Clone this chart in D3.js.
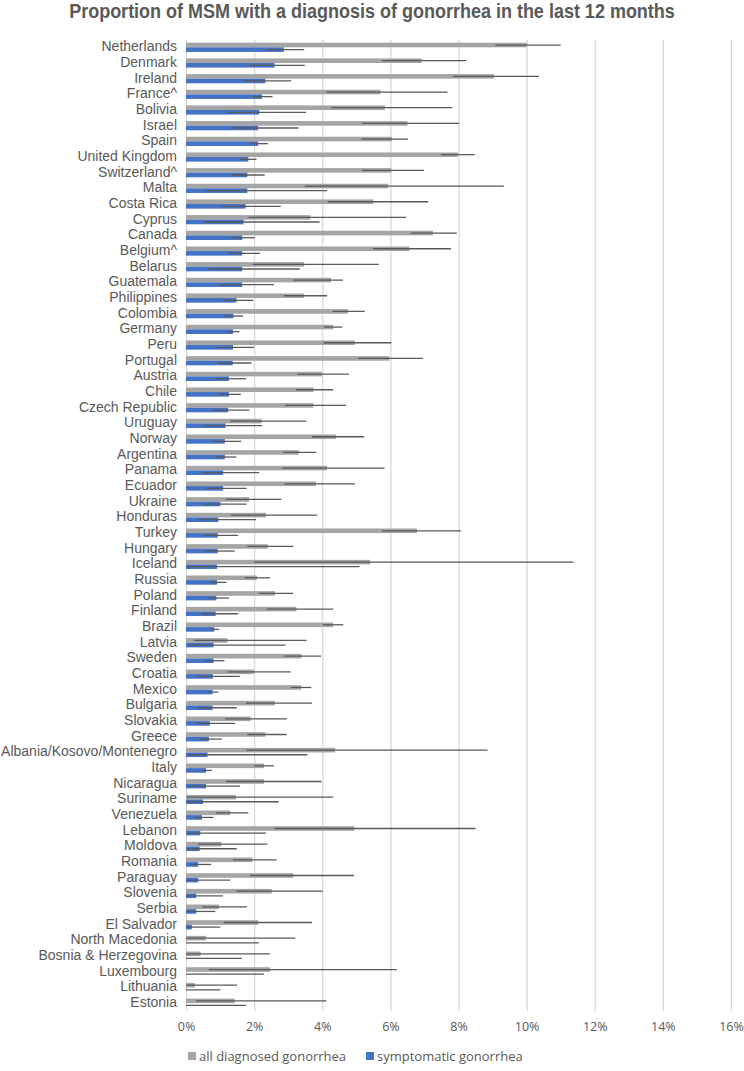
<!DOCTYPE html>
<html>
  <head>
    <script src="https://d3js.org/d3.v7.min.js"></script>
    <style>
      body { margin: 0; background: #fff; }
      text { font-family: "Liberation Sans", Arial, sans-serif; }
    </style>
  </head>
  <body>
    <div id="chart"></div>
    <script>
      const countries = ['Netherlands', 'Denmark', 'Ireland', 'France^', 'Bolivia', 'Israel', 'Spain',
        'United Kingdom', 'Switzerland^', 'Malta', 'Costa Rica', 'Cyprus', 'Canada', 'Belgium^', 'Belarus',
        'Guatemala', 'Philippines', 'Colombia', 'Germany', 'Peru', 'Portugal', 'Austria', 'Chile',
        'Czech Republic', 'Uruguay', 'Norway', 'Argentina', 'Panama', 'Ecuador', 'Ukraine', 'Honduras',
        'Turkey', 'Hungary', 'Iceland', 'Russia', 'Poland', 'Finland', 'Brazil', 'Latvia', 'Sweden',
        'Croatia', 'Mexico', 'Bulgaria', 'Slovakia', 'Greece', 'Albania/Kosovo/Montenegro', 'Italy',
        'Nicaragua', 'Suriname', 'Venezuela', 'Lebanon', 'Moldova', 'Romania', 'Paraguay', 'Slovenia',
        'Serbia', 'El Salvador', 'North Macedonia', 'Bosnia & Herzegovina', 'Luxembourg', 'Lithuania', 'Estonia'];

      // all diagnosed gonorrhea (%), with lower / upper limits
      const allDx = [10.0, 6.92, 9.04, 5.71, 5.84, 6.50, 6.05, 7.98, 6.03, 5.94, 5.50, 3.65, 7.25, 6.56, 3.47,
        4.26, 3.46, 4.76, 4.32, 4.96, 5.97, 3.99, 3.74, 3.74, 2.22, 4.40, 3.31, 4.14, 3.82, 1.85, 2.35,
        6.78, 2.40, 5.41, 2.08, 2.61, 3.24, 4.32, 1.22, 3.39, 1.99, 3.38, 2.61, 1.90, 2.33, 4.38, 2.29,
        2.29, 1.47, 1.30, 4.94, 1.04, 1.95, 3.15, 2.52, 0.97, 2.12, 0.58, 0.43, 2.47, 0.26, 1.43];
      const allLo = [9.08, 5.75, 7.84, 4.13, 4.25, 5.17, 5.15, 7.49, 5.16, 3.49, 4.17, 1.84, 6.59, 5.49, 1.96,
        3.15, 2.87, 4.30, 4.05, 4.04, 5.06, 3.27, 3.23, 2.91, 1.30, 3.69, 2.86, 2.83, 2.89, 1.16, 1.32,
        5.75, 1.80, 2.00, 1.72, 2.14, 2.38, 4.02, 0.24, 2.87, 1.22, 3.08, 1.76, 1.15, 1.80, 1.78, 2.00,
        1.17, 0.03, 0.88, 2.59, 0.35, 1.38, 1.88, 1.48, 0.48, 1.11, 0.0, 0.0, 0.67, 0.0, 0.30];
      const allHi = [11.0, 8.23, 10.36, 7.68, 7.82, 8.02, 6.52, 8.48, 6.99, 9.33, 7.11, 6.46, 7.95, 7.78, 5.66,
        4.61, 4.14, 5.25, 4.59, 6.03, 6.96, 4.78, 4.32, 4.70, 3.53, 5.23, 3.83, 5.83, 4.96, 2.80, 3.85,
        8.07, 3.15, 11.38, 2.47, 3.15, 4.32, 4.62, 3.54, 3.97, 3.07, 3.68, 3.70, 2.96, 2.95, 8.85, 2.58,
        3.98, 4.32, 1.83, 8.50, 2.39, 2.66, 4.93, 4.01, 1.79, 3.70, 3.21, 2.46, 6.19, 1.50, 4.12];

      // symptomatic gonorrhea (%), with lower / upper limits
      const sympt = [2.87, 2.60, 2.33, 2.23, 2.15, 2.12, 2.12, 1.83, 1.80, 1.80, 1.75, 1.69, 1.65, 1.65, 1.65,
        1.65, 1.48, 1.39, 1.38, 1.38, 1.37, 1.26, 1.26, 1.24, 1.16, 1.14, 1.14, 1.09, 1.09, 1.01, 0.95,
        0.93, 0.93, 0.91, 0.91, 0.89, 0.87, 0.83, 0.81, 0.81, 0.79, 0.78, 0.78, 0.70, 0.67, 0.63, 0.59,
        0.59, 0.50, 0.47, 0.42, 0.40, 0.36, 0.36, 0.30, 0.30, 0.17, 0.0, 0.0, 0.0, 0.0, 0.0];
      const symLo = [2.34, 1.88, 1.69, 1.95, 1.21, 1.38, 1.89, 1.59, 1.35, 0.59, 1.04, 0.53, 1.33, 1.22, 0.67,
        0.98, 1.09, 1.11, 1.20, 0.90, 0.93, 0.88, 0.95, 0.77, 0.54, 0.79, 0.88, 0.47, 0.59, 0.51, 0.35,
        0.54, 0.56, 0.0, 0.70, 0.63, 0.46, 0.70, 0.08, 0.56, 0.35, 0.62, 0.35, 0.28, 0.40, 0.03, 0.45,
        0.11, 0.03, 0.24, 0.03, 0.03, 0.14, 0.03, 0.03, 0.03, 0.03, 0.0, 0.0, 0.0, 0.0, 0.0];
      const symHi = [3.47, 3.49, 3.09, 2.54, 3.52, 3.30, 2.41, 2.07, 2.31, 4.14, 2.78, 3.92, 2.02, 2.18, 3.34,
        2.58, 1.97, 1.68, 1.57, 2.00, 1.92, 1.77, 1.61, 1.86, 2.24, 1.62, 1.48, 2.15, 1.78, 1.78, 2.06,
        1.53, 1.43, 5.09, 1.19, 1.26, 1.53, 0.97, 2.92, 1.13, 1.58, 0.95, 1.49, 1.44, 1.05, 3.56, 0.76,
        1.59, 2.72, 0.81, 2.35, 1.49, 0.74, 1.30, 1.08, 0.86, 1.01, 2.14, 1.64, 2.29, 1.01, 1.76];

      const xTicks = [0, 2, 4, 6, 8, 10, 12, 14, 16];
      const seriesNames = ['all diagnosed gonorrhea', 'symptomatic gonorrhea'];
      const seriesColors = ['#a5a5a5', '#4472c4'];

      const width = 744, height = 1071;
      const svg = d3.select('#chart').append('svg')
        .attr('width', width)
        .attr('height', height);

      const x = d3.scaleLinear().domain([0, 16]).range([186, 731]);
      const y = d3.scaleBand().domain(countries).range([39.5, 1011]);
      const barH = 4.6;

      // title (narrow look: scaled horizontally)
      svg.append('text')
        .attr('transform', 'translate(372,18) scale(0.9,1)')
        .attr('text-anchor', 'middle')
        .attr('font-size', 20)
        .attr('font-weight', 'bold')
        .attr('fill', '#595959')
        .text('Proportion of MSM with a diagnosis of gonorrhea in the last 12 months');

      // gridlines
      const grid = svg.append('g')
        .attr('transform', 'translate(0,' + y.range()[0] + ')')
        .call(d3.axisBottom(x).tickValues(xTicks).tickSize(y.range()[1] - y.range()[0]).tickFormat(''));
      grid.select('.domain').remove();
      grid.selectAll('line').attr('stroke', '#d9d9d9').attr('stroke-width', 1.3);

      // x tick labels
      const xAxis = svg.append('g')
        .attr('transform', 'translate(0,1019)')
        .call(d3.axisBottom(x).tickValues(xTicks).tickSize(0).tickFormat(d => d + '%'));
      xAxis.select('.domain').remove();
      xAxis.selectAll('text')
        .attr('font-size', 12.5)
        .attr('fill', '#595959')
        .style('font-family', '"Open Sans", sans-serif');

      // category labels
      const yAxis = svg.append('g')
        .attr('transform', 'translate(186,0)')
        .call(d3.axisLeft(y).tickSize(0).tickPadding(9));
      yAxis.select('.domain').remove();
      yAxis.selectAll('text')
        .attr('font-size', 14)
        .attr('fill', '#595959')
        .attr('dy', '0.28em');

      const rows = countries.map((c, i) => ({
        c, a: allDx[i], aLo: allLo[i], aHi: allHi[i], s: sympt[i], sLo: symLo[i], sHi: symHi[i]
      }));
      const mid = d => y(d.c) + y.bandwidth() / 2;

      // bars
      svg.append('g').selectAll('rect').data(rows).join('rect')
        .attr('x', x(0))
        .attr('y', d => mid(d) - barH)
        .attr('width', d => x(d.a) - x(0))
        .attr('height', barH)
        .attr('fill', seriesColors[0]);

      svg.append('g').selectAll('rect').data(rows).join('rect')
        .attr('x', x(0))
        .attr('y', d => mid(d))
        .attr('width', d => x(d.s) - x(0))
        .attr('height', barH)
        .attr('fill', seriesColors[1]);

      // error bars
      svg.append('g').selectAll('line').data(rows).join('line')
        .attr('x1', d => x(d.aLo))
        .attr('x2', d => x(d.aHi))
        .attr('y1', d => mid(d) - barH / 2)
        .attr('y2', d => mid(d) - barH / 2)
        .attr('stroke', '#595959')
        .attr('stroke-width', 1.3);

      svg.append('g').selectAll('line').data(rows).join('line')
        .attr('x1', d => x(d.sLo))
        .attr('x2', d => x(d.sHi))
        .attr('y1', d => mid(d) + barH / 2)
        .attr('y2', d => mid(d) + barH / 2)
        .attr('stroke', '#595959')
        .attr('stroke-width', 1.3);

      // legend
      const legendX = [188, 366];
      const legend = svg.append('g').selectAll('g').data(seriesNames).join('g')
        .attr('transform', (d, i) => 'translate(' + legendX[i] + ',1056)');
      legend.append('rect')
        .attr('x', 0).attr('y', -4)
        .attr('width', 8).attr('height', 8)
        .attr('fill', (d, i) => seriesColors[i]);
      legend.append('text')
        .attr('x', 11)
        .attr('dy', '0.35em')
        .attr('font-size', 13)
        .attr('fill', '#595959')
        .style('font-family', '"Open Sans", sans-serif')
        .text(d => d);
    </script>
  </body>
</html>
